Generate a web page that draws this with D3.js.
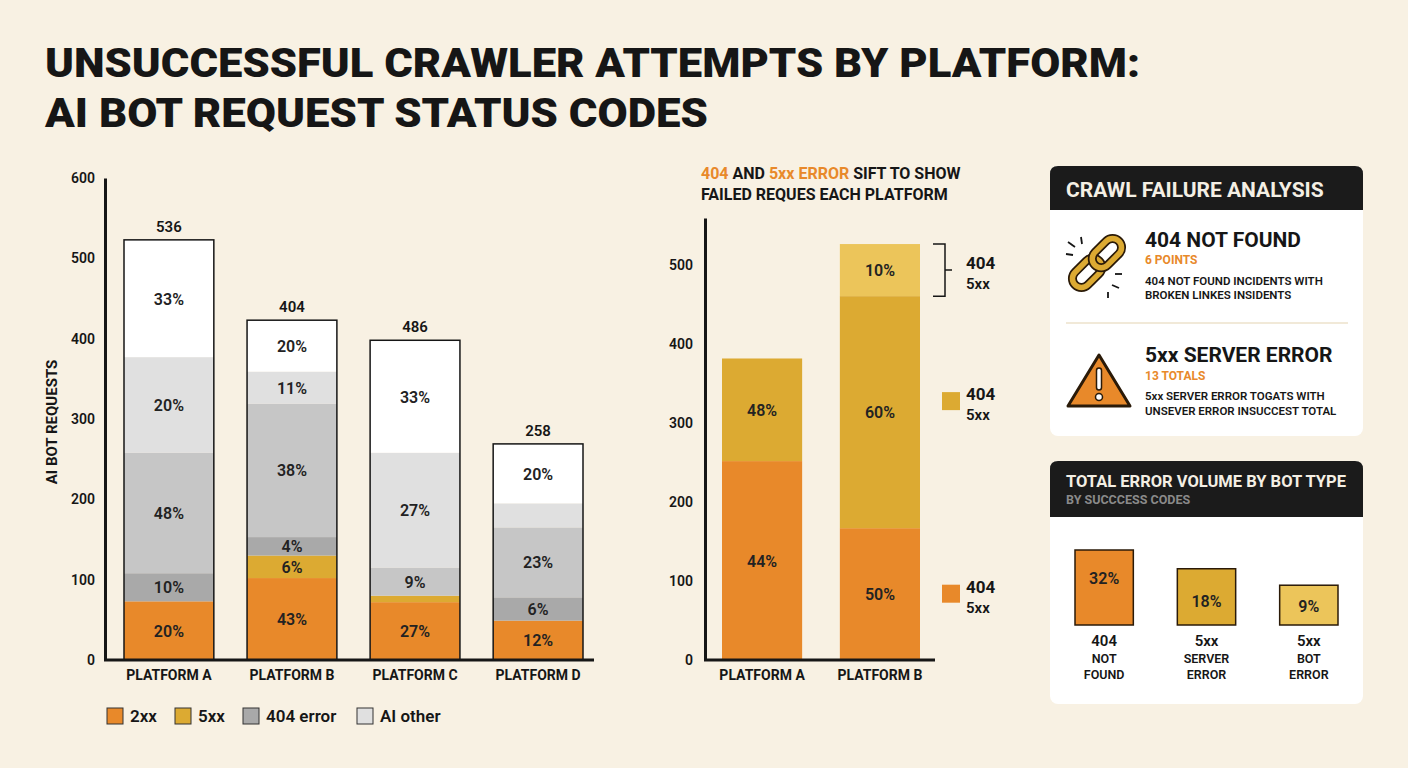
<!DOCTYPE html>
<html><head><meta charset="utf-8">
<script src="https://cdn.jsdelivr.net/npm/d3@7"></script>
<style>body{margin:0;background:#f8f1e3;}svg{display:block;font-family:Roboto,"Noto Sans",sans-serif;}</style>
</head><body><svg id="c" width="1408" height="768"></svg>
<script>
// ---------- data ----------
const platforms = ["PLATFORM A","PLATFORM B","PLATFORM C","PLATFORM D"];
const seriesKeys = ["s2xx","s5xx","s404","sMid","sLight","sOther"];
const s2xx   = [73,102,72,49];
const s5xx   = [0,28,8,0];
const s404   = [35,23,0,29];
const sMid   = [150,166,35,87];
const sLight = [119,40,143,30];
const sOther = [146,64,140,74];
const lbl2xx   = ["20%","43%","27%","12%"];
const lbl5xx   = ["","6%","",""];
const lbl404   = ["10%","4%","","6%"];
const lblMid   = ["48%","38%","9%","23%"];
const lblLight = ["20%","11%","27%",""];
const lblOther = ["33%","20%","33%","20%"];
const totals = ["536","404","486","258"];
const leftTicks = [0,100,200,300,400,500,600];
const legendItems = ["2xx","5xx","404 error","AI other"];

const midPlatforms = ["PLATFORM A","PLATFORM B"];
const mid404 = [252,167];
const mid5xx = [130,294];
const midTop = [0,66];
const midLbl404 = ["44%","50%"];
const midLbl5xx = ["48%","60%"];
const midLblTop = ["","10%"];
const midTicks = [0,100,200,300,400,500];
const midLegendAt = [null,328,84];

const volCats = [["404","NOT","FOUND"],["5xx","SERVER","ERROR"],["5xx","BOT","ERROR"]];
const volVals = [32,18,9];

// ---------- drawing ----------
const svg = d3.select("#c");
const ORANGE="#e8892a", GOLD="#dcaa32", LGOLD="#ecc55a";
const colors = {s2xx:ORANGE,s5xx:GOLD,s404:"#a9a9a9",sMid:"#c6c6c6",sLight:"#e0e0e0",sOther:"#ffffff"};
const ink="#161616";

svg.append("text").attr("x",45).attr("y",77).attr("font-size",40).attr("font-weight",900).attr("fill",ink)
  .attr("textLength",1095).attr("lengthAdjust","spacingAndGlyphs").text("UNSUCCESSFUL CRAWLER ATTEMPTS BY PLATFORM:");
svg.append("text").attr("x",45).attr("y",127).attr("font-size",40).attr("font-weight",900).attr("fill",ink)
  .attr("textLength",663).attr("lengthAdjust","spacingAndGlyphs").text("AI BOT REQUEST STATUS CODES");

// left chart
const rows = platforms.map((p,i)=>({p,s2xx:s2xx[i],s5xx:s5xx[i],s404:s404[i],sMid:sMid[i],sLight:sLight[i],sOther:sOther[i]}));
const lbls = {s2xx:lbl2xx,s5xx:lbl5xx,s404:lbl404,sMid:lblMid,sLight:lblLight,sOther:lblOther};
const x = d3.scaleBand().domain(platforms).range([124,583]).paddingInner(0.27).paddingOuter(0);
const y = d3.scaleLinear().domain([0,600]).range([660,178]);
const stack = d3.stack().keys(seriesKeys)(rows);
const gL = svg.append("g");
const bw = x.bandwidth();
stack.forEach(layer=>{
  layer.forEach((d,i)=>{
    const h=y(d[0])-y(d[1]); if(h<=0) return;
    gL.append("rect").attr("x",x(platforms[i])).attr("width",bw).attr("y",y(d[1])).attr("height",h).attr("fill",colors[layer.key]);
    const t=lbls[layer.key][i];
    if(t) gL.append("text").attr("x",x(platforms[i])+bw/2).attr("y",(y(d[0])+y(d[1]))/2+6)
      .attr("text-anchor","middle").attr("font-size",16).attr("font-weight",600).attr("fill","#222").text(t);
  });
});
stack[stack.length-1].forEach((d,i)=>{
  gL.append("rect").attr("x",x(platforms[i])).attr("width",bw).attr("y",y(d[1])).attr("height",y(0)-y(d[1]))
    .attr("fill","none").attr("stroke",ink).attr("stroke-width",1.5);
  gL.append("text").attr("x",x(platforms[i])+bw/2).attr("y",y(d[1])-8).attr("text-anchor","middle")
    .attr("font-size",15).attr("font-weight",600).attr("fill",ink).text(totals[i]);
});
const yAx = gL.append("g").attr("transform","translate(105,0)").call(d3.axisLeft(y).tickValues(leftTicks).tickSize(0).tickPadding(10));
yAx.select(".domain").attr("stroke",ink).attr("stroke-width",3);
yAx.selectAll("text").attr("font-size",14).attr("font-weight",600).attr("fill",ink).attr("font-family","Roboto");
gL.append("line").attr("x1",104).attr("x2",594).attr("y1",660).attr("y2",660).attr("stroke",ink).attr("stroke-width",3);
const xAx = gL.append("g").attr("transform","translate(0,660)").call(d3.axisBottom(x).tickSize(0).tickPadding(10));
xAx.select(".domain").remove();
xAx.selectAll("text").attr("font-size",14).attr("font-weight",700).attr("fill",ink).attr("font-family","Roboto");
gL.append("text").attr("transform","translate(57,422) rotate(-90)").attr("text-anchor","middle")
  .attr("font-size",15).attr("font-weight",700).attr("fill",ink).text("AI BOT REQUESTS");
const legX=[107,175,243,357], legC=[ORANGE,GOLD,"#a9a9a9","#e0e0e0"];
legendItems.forEach((t,i)=>{
  gL.append("rect").attr("x",legX[i]).attr("y",708).attr("width",16).attr("height",16).attr("fill",legC[i]).attr("stroke","#333").attr("stroke-width",1);
  gL.append("text").attr("x",legX[i]+23).attr("y",722).attr("font-size",17).attr("font-weight",600).attr("fill",ink).text(t);
});

// middle chart
const gM = svg.append("g");
const st = gM.append("text").attr("x",701).attr("y",179).attr("font-size",16).attr("font-weight",700).attr("fill",ink);
st.append("tspan").attr("fill",ORANGE).text("404");
st.append("tspan").text(" AND ");
st.append("tspan").attr("fill",ORANGE).text("5xx ERROR");
st.append("tspan").text(" SIFT TO SHOW");
gM.append("text").attr("x",701).attr("y",200).attr("font-size",16).attr("font-weight",700).attr("fill",ink).text("FAILED REQUES EACH PLATFORM");
const x2 = d3.scaleBand().domain(midPlatforms).range([722,920]).paddingInner(0.32).paddingOuter(0);
const y2 = d3.scaleLinear().domain([0,560]).range([660,218]);
const mrows = midPlatforms.map((p,i)=>({p,a:mid404[i],b:mid5xx[i],c:midTop[i]}));
const mstack = d3.stack().keys(["a","b","c"])(mrows);
const mcol={a:ORANGE,b:GOLD,c:LGOLD}, mlbl={a:midLbl404,b:midLbl5xx,c:midLblTop};
mstack.forEach(layer=>layer.forEach((d,i)=>{
  const h=y2(d[0])-y2(d[1]); if(h<=0) return;
  gM.append("rect").attr("x",x2(midPlatforms[i])).attr("width",x2.bandwidth()).attr("y",y2(d[1])).attr("height",h).attr("fill",mcol[layer.key]);
  gM.append("text").attr("x",x2(midPlatforms[i])+x2.bandwidth()/2).attr("y",(y2(d[0])+y2(d[1]))/2+6).attr("text-anchor","middle")
    .attr("font-size",16).attr("font-weight",600).attr("fill","#222").text(mlbl[layer.key][i]);
}));
const yAx2 = gM.append("g").attr("transform","translate(705,0)").call(d3.axisLeft(y2).tickValues(midTicks).tickSize(0).tickPadding(12));
yAx2.select(".domain").attr("stroke",ink).attr("stroke-width",3);
yAx2.selectAll("text").attr("font-size",14).attr("font-weight",600).attr("fill",ink).attr("font-family","Roboto");
gM.append("line").attr("x1",704).attr("x2",935).attr("y1",660).attr("y2",660).attr("stroke",ink).attr("stroke-width",3);
const xAx2 = gM.append("g").attr("transform","translate(0,660)").call(d3.axisBottom(x2).tickSize(0).tickPadding(10));
xAx2.select(".domain").remove();
xAx2.selectAll("text").attr("font-size",14).attr("font-weight",700).attr("fill",ink).attr("font-family","Roboto");
const bTop=y2(mstack[2][1][1]), bBot=y2(mstack[2][1][0]);
gM.append("path").attr("d",`M933,${bTop}H945V${bBot}H933M945,${(bTop+bBot)/2}H952`).attr("fill","none").attr("stroke",ink).attr("stroke-width",1.5);
const legSw=[null,GOLD,ORANGE];
midLegendAt.forEach((v,i)=>{
  const cy = v===null ? (bTop+bBot)/2 : y2(v);
  if(legSw[i]) gM.append("rect").attr("x",942).attr("y",cy-9).attr("width",18).attr("height",18).attr("fill",legSw[i]);
  gM.append("text").attr("x",966).attr("y",cy-1).attr("font-size",17).attr("font-weight",700).attr("fill",ink).text("404");
  gM.append("text").attr("x",966).attr("y",cy+19).attr("font-size",15).attr("font-weight",600).attr("fill",ink).text("5xx");
});

// right panels
const gR = svg.append("g");
function panel(y0,h,hh){
  gR.append("rect").attr("x",1050).attr("y",y0).attr("width",313).attr("height",h).attr("rx",8).attr("fill","#ffffff");
  gR.append("path").attr("d",`M1050,${y0+hh}V${y0+8}Q1050,${y0} 1058,${y0}H1355Q1363,${y0} 1363,${y0+8}V${y0+hh}Z`).attr("fill","#1b1b1b");
}
panel(166,270,44); panel(461,243,56);
gR.append("text").attr("x",1066).attr("y",197).attr("font-size",21).attr("font-weight",700).attr("fill","#f4efe4").text("CRAWL FAILURE ANALYSIS");
const chain=gR.append("g").attr("transform","translate(1097,263) rotate(-45)");
[[-14,0],[14,0]].forEach(([cx,cy])=>{
  chain.append("rect").attr("x",cx-17).attr("y",cy-9).attr("width",34).attr("height",18).attr("rx",9).attr("fill","none").attr("stroke","#2a1a08").attr("stroke-width",9);
  chain.append("rect").attr("x",cx-17).attr("y",cy-9).attr("width",34).attr("height",18).attr("rx",9).attr("fill","none").attr("stroke",GOLD).attr("stroke-width",5.5);
});
[[1068,242,1075,247],[1066,254,1073,255],[1081,237,1082,244],[1112,285,1119,288],[1115,274,1122,274],[1108,292,1108,298]].forEach(l=>
  gR.append("line").attr("x1",l[0]).attr("y1",l[1]).attr("x2",l[2]).attr("y2",l[3]).attr("stroke",ink).attr("stroke-width",1.8));
gR.append("text").attr("x",1145).attr("y",247).attr("font-size",21).attr("font-weight",700).attr("fill",ink).text("404 NOT FOUND");
gR.append("text").attr("x",1145).attr("y",264).attr("font-size",12).attr("font-weight",700).attr("fill",ORANGE).text("6 POINTS");
gR.append("text").attr("x",1145).attr("y",285).attr("font-size",11.5).attr("font-weight",600).attr("fill",ink).text("404 NOT FOUND INCIDENTS WITH");
gR.append("text").attr("x",1145).attr("y",299).attr("font-size",11.5).attr("font-weight",600).attr("fill",ink).text("BROKEN LINKES INSIDENTS");
gR.append("line").attr("x1",1066).attr("x2",1348).attr("y1",323).attr("y2",323).attr("stroke","#f1e9d8").attr("stroke-width",2);
gR.append("path").attr("d","M1099,355L1130,406H1068Z").attr("fill",ORANGE).attr("stroke","#2a1a08").attr("stroke-width",3).attr("stroke-linejoin","round");
gR.append("rect").attr("x",1096.5).attr("y",368).attr("width",5).attr("height",22).attr("rx",2.5).attr("fill","#fff").attr("stroke","#2a1a08").attr("stroke-width",1.5);
gR.append("circle").attr("cx",1099).attr("cy",397).attr("r",3.5).attr("fill","#fff").attr("stroke","#2a1a08").attr("stroke-width",1.5);
gR.append("text").attr("x",1145).attr("y",362).attr("font-size",21).attr("font-weight",700).attr("fill",ink).text("5xx SERVER ERROR");
gR.append("text").attr("x",1145).attr("y",380).attr("font-size",12).attr("font-weight",700).attr("fill",ORANGE).text("13 TOTALS");
gR.append("text").attr("x",1145).attr("y",400).attr("font-size",11.5).attr("font-weight",600).attr("fill",ink).text("5xx SERVER ERROR TOGATS WITH");
gR.append("text").attr("x",1145).attr("y",415).attr("font-size",11.5).attr("font-weight",600).attr("fill",ink).text("UNSEVER ERROR INSUCCEST TOTAL");

gR.append("text").attr("x",1066).attr("y",487).attr("font-size",16.5).attr("font-weight",700).attr("fill","#f4efe4").text("TOTAL ERROR VOLUME BY BOT TYPE");
gR.append("text").attr("x",1066).attr("y",504).attr("font-size",12.5).attr("font-weight",700).attr("fill","#8a8a8a").text("BY SUCCCESS CODES");
const xv = d3.scaleBand().domain(d3.range(volVals.length)).range([1075,1338]).paddingInner(0.43).paddingOuter(0);
const hv = d3.scaleSqrt().domain([0,32]).range([0,75]);
const vcol=[ORANGE,GOLD,LGOLD];
volVals.forEach((v,i)=>{
  gR.append("rect").attr("x",xv(i)).attr("y",625-hv(v)).attr("width",xv.bandwidth()).attr("height",hv(v)).attr("fill",vcol[i]).attr("stroke","#2a1a08").attr("stroke-width",1.5);
  gR.append("text").attr("x",xv(i)+xv.bandwidth()/2).attr("y",625-hv(v)+(i==0?34:i==1?38:27)).attr("text-anchor","middle").attr("font-size",16).attr("font-weight",600).attr("fill","#222").text(v+"%");
  volCats[i].forEach((t,j)=>gR.append("text").attr("x",xv(i)+xv.bandwidth()/2).attr("y",646+j*16.5).attr("text-anchor","middle")
    .attr("font-size",j==0?15:12.5).attr("font-weight",600).attr("fill",ink).text(t));
});
</script></body></html>
